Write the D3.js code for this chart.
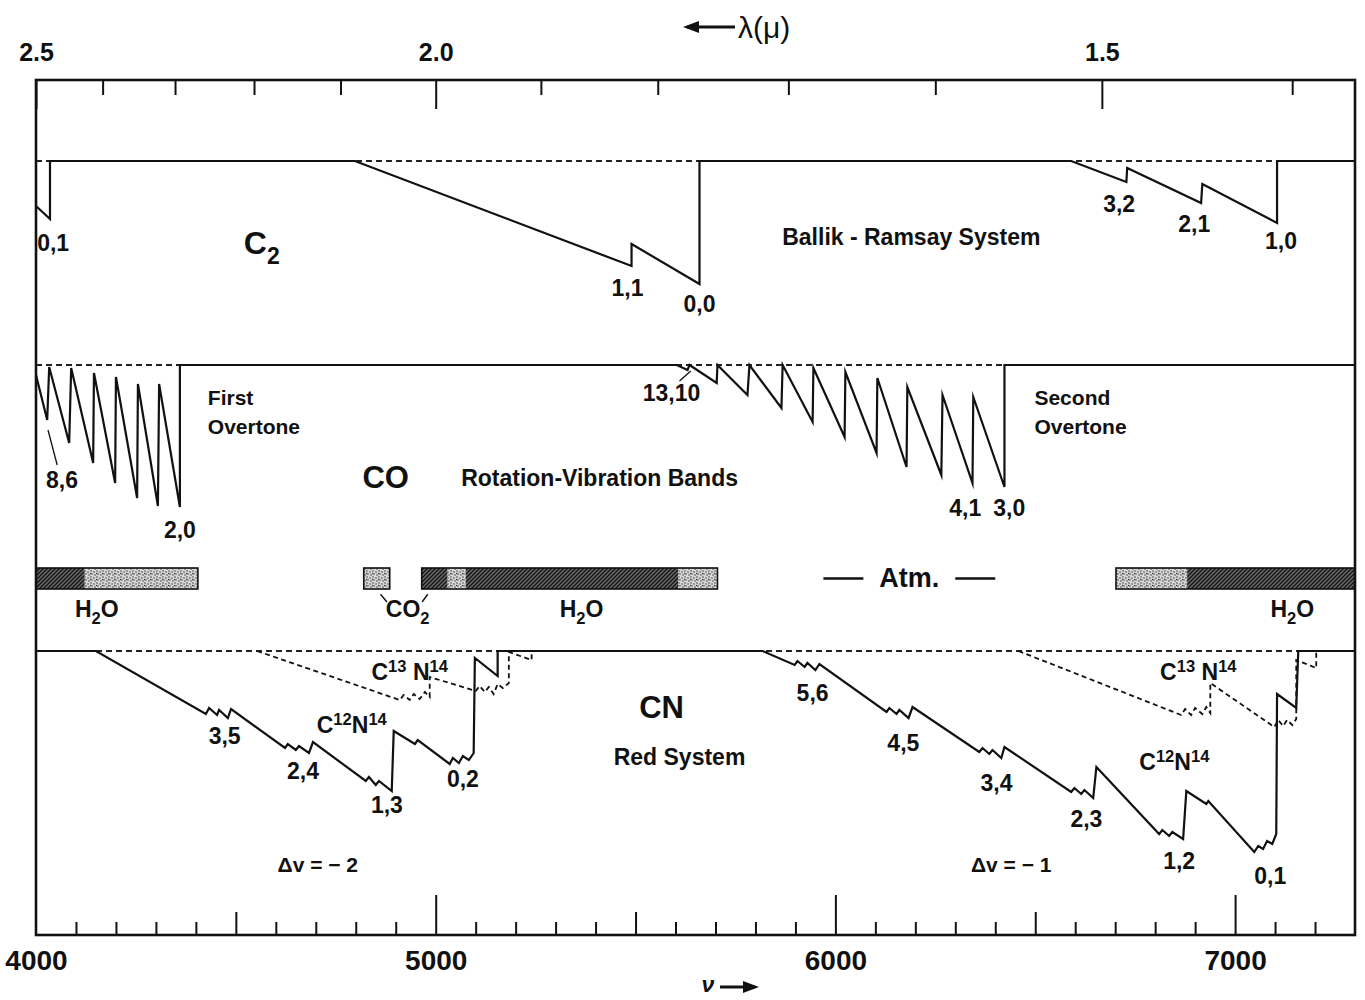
<!DOCTYPE html>
<html>
<head>
<meta charset="utf-8">
<script src="https://cdn.jsdelivr.net/npm/d3@7"></script>
<style>
  body { margin: 0; background: #fff; }
  svg { display: block; }
  .lbl { font-family: "Liberation Sans", Arial, sans-serif; font-weight: bold; fill: #111; }
  .tick text { font-family: "Liberation Sans", Arial, sans-serif; font-weight: bold; fill: #111; }
</style>
</head>
<body>
<div id="chart"></div>
<script>
// Absorption band schematic: C2, CO, atmosphere, CN   (nu in cm-1, depth below continuum)
const nuDomain = [4000, 7300];

// C2 Ballik-Ramsay system
const c2Line = [
  [4000, 45], [4035, 58], [4035, 0], [4798, 0], [5490, 105], [5490, 83], [5660, 123], [5660, 0],
  [6590, 0], [6728, 21], [6730, 7], [6915, 42], [6918, 23], [7105, 62], [7105, 0], [7300, 0]
];

// CO first + second overtone bands
const coLine = [
  [4000, 10], [4028, 55], [4033, 2], [4083, 78], [4088, 3], [4143, 98], [4145, 8],
  [4198, 118], [4200, 12], [4253, 133], [4255, 19], [4305, 141], [4308, 19], [4360, 142], [4360, 0],
  [5603, 0], [5630, 5], [5635, 0], [5703, 18], [5705, 0], [5780, 30], [5785, 0], [5865, 43], [5868, 0],
  [5943, 57], [5945, 3], [6023, 72], [6025, 7], [6103, 88], [6105, 13], [6178, 102], [6180, 22],
  [6265, 110], [6268, 30], [6343, 118], [6345, 32], [6423, 122], [6423, 0], [7300, 0]
];

// CN red system, C12N14 (solid)
const cn12Line = [
  [4000, 0], [4150, 0],
  [4425, 63], [4433, 57], [4453, 64], [4458, 59], [4480, 67], [4488, 58],
  [4623, 97], [4630, 93], [4650, 99], [4658, 95], [4683, 102], [4693, 91],
  [4825, 130], [4833, 126], [4850, 134], [4858, 130], [4890, 140], [4895, 80],
  [4948, 93], [4955, 89], [5035, 113], [5043, 107], [5058, 112], [5068, 105], [5083, 109], [5095, 102],
  [5098, 7], [5155, 25], [5155, 0], [5818, 0],
  [5898, 14], [5905, 10], [5923, 16], [5930, 12], [5950, 19], [5960, 13],
  [6128, 61], [6135, 57], [6153, 63], [6160, 59], [6183, 67], [6193, 56],
  [6360, 101], [6368, 97], [6385, 103], [6393, 99], [6415, 107], [6423, 96],
  [6590, 141], [6598, 137], [6615, 143], [6623, 139], [6645, 147], [6653, 116],
  [6810, 183], [6818, 179], [6835, 185], [6843, 181], [6870, 188], [6878, 140],
  [6928, 153], [6933, 150],
  [7048, 201], [7058, 195], [7070, 198], [7080, 190], [7093, 193], [7103, 183],
  [7105, 43], [7153, 57], [7158, 0], [7300, 0]
];

// CN red system, C13N14 (dashed)
const cn13Dv2 = [
  [4553, 0], [4910, 49], [4920, 44], [4935, 49], [4945, 43], [4960, 48], [4973, 41], [4985, 46],
  [4985, 26], [5100, 40], [5110, 35], [5123, 41], [5133, 36], [5145, 43], [5155, 33], [5168, 37],
  [5183, 32], [5183, 1], [5240, 9], [5240, 0]
];
const cn13Dv1 = [
  [6458, 0], [6865, 64], [6875, 58], [6890, 64], [6900, 57], [6918, 63], [6928, 56], [6938, 62],
  [6938, 32], [7098, 76], [7108, 69], [7120, 75], [7130, 69], [7143, 74], [7153, 68],
  [7153, 9], [7203, 17], [7203, 1]
];

// telluric absorption: [from, to, texture]
const atmSegments = [
  [4000, 4122, "hatch"], [4122, 4405, "stipple"],
  [4820, 4885, "stipple"],
  [4965, 5030, "hatch"], [5030, 5075, "stipple"], [5075, 5607, "hatch"], [5607, 5705, "stipple"],
  [6702, 6880, "stipple"], [6880, 7300, "hatch"]
];
const atmBoxes = [[4000, 4405], [4820, 4885], [4965, 5705], [6702, 7300]];

// axis ticks
const nuMinor = d3.range(4100, 7300, 100).filter(v => v % 500 !== 0);
const nuMid = [4500, 5500, 6500];
const nuMajor = [5000, 6000, 7000];
const nuLabels = [4000, 5000, 6000, 7000];
const lamMinor = [2.4, 2.3, 2.2, 2.1, 1.9, 1.8, 1.7, 1.6, 1.4];
const lamMajor = [2.5, 2.0, 1.5];

// labels: parts [text, 0 normal / 1 sup / -1 sub], nu, depth, anchor, size
const c2Labels = [
  { p: [["0,1", 0]], nu: 4043, d: 90 },
  { p: [["C", 0], ["2", -1]], nu: 4565, d: 93, s: 32 },
  { p: [["1,1", 0]], nu: 5480, d: 135 },
  { p: [["0,0", 0]], nu: 5660, d: 151 },
  { p: [["Ballik - Ramsay System", 0]], nu: 6190, d: 84 },
  { p: [["3,2", 0]], nu: 6710, d: 51 },
  { p: [["2,1", 0]], nu: 6898, d: 71 },
  { p: [["1,0", 0]], nu: 7115, d: 88 }
];
const coLabels = [
  { p: [["8,6", 0]], nu: 4065, d: 123 },
  { p: [["2,0", 0]], nu: 4360, d: 173 },
  { p: [["First", 0]], nu: 4430, d: 40, a: "start", s: 21 },
  { p: [["Overtone", 0]], nu: 4430, d: 69, a: "start", s: 21 },
  { p: [["CO", 0]], nu: 4875, d: 123, s: 31 },
  { p: [["Rotation-Vibration Bands", 0]], nu: 5410, d: 121 },
  { p: [["13,10", 0]], nu: 5590, d: 36 },
  { p: [["4,1", 0]], nu: 6325, d: 151 },
  { p: [["3,0", 0]], nu: 6435, d: 151 },
  { p: [["Second", 0]], nu: 6498, d: 40, a: "start", s: 21 },
  { p: [["Overtone", 0]], nu: 6498, d: 69, a: "start", s: 21 }
];
const coLeaders = [[[4030, 65], [4053, 100]], [[5610, 16], [5638, 6]]];
const atmLabels = [
  { p: [["H", 0], ["2", -1], ["O", 0]], nu: 4152, d: 2.35 },
  { p: [["CO", 0], ["2", -1]], nu: 4930, d: 2.35 },
  { p: [["H", 0], ["2", -1], ["O", 0]], nu: 5365, d: 2.35 },
  { p: [["H", 0], ["2", -1], ["O", 0]], nu: 7143, d: 2.35 },
  { p: [["Atm.", 0]], nu: 6185, d: 0.9, s: 27 }
];
const atmLeaders = [[[4862, 1.25], [4878, 1.62]], [[4980, 1.25], [4966, 1.62]], [[5970, 0.5], [6070, 0.5]], [[6300, 0.5], [6400, 0.5]]];
const cnLabels = [
  { p: [["3,5", 0]], nu: 4472, d: 93 },
  { p: [["2,4", 0]], nu: 4668, d: 128 },
  { p: [["1,3", 0]], nu: 4878, d: 162 },
  { p: [["0,2", 0]], nu: 5068, d: 136 },
  { p: [["C", 0], ["12", 1], ["N", 0], ["14", 1]], nu: 4790, d: 82 },
  { p: [["C", 0], ["13", 1], [" N", 0], ["14", 1]], nu: 4935, d: 29 },
  { p: [["CN", 0]], nu: 5565, d: 67, s: 31 },
  { p: [["Red System", 0]], nu: 5610, d: 114 },
  { p: [["\u0394v = \u2212 2", 0]], nu: 4705, d: 221, s: 21 },
  { p: [["5,6", 0]], nu: 5943, d: 50 },
  { p: [["4,5", 0]], nu: 6170, d: 100 },
  { p: [["3,4", 0]], nu: 6403, d: 140 },
  { p: [["2,3", 0]], nu: 6628, d: 176 },
  { p: [["1,2", 0]], nu: 6860, d: 218 },
  { p: [["0,1", 0]], nu: 7088, d: 233 },
  { p: [["C", 0], ["12", 1], ["N", 0], ["14", 1]], nu: 6848, d: 119 },
  { p: [["C", 0], ["13", 1], [" N", 0], ["14", 1]], nu: 6908, d: 29 },
  { p: [["\u0394v = \u2212 1", 0]], nu: 6440, d: 221, s: 21 }
];

const W = 1365, H = 1000;
const frame = { left: 36, right: 1355, top: 80, bottom: 935 };

const svg = d3.select("#chart").append("svg").attr("width", W).attr("height", H);

const x = d3.scaleLinear().domain(nuDomain).range([frame.left, frame.right]);
const yC2 = d3.scaleLinear().domain([0, 100]).range([161, 261]);
const yCO = d3.scaleLinear().domain([0, 100]).range([365, 465]);
const yCN = d3.scaleLinear().domain([0, 100]).range([651, 751]);
const yAtm = d3.scaleLinear().domain([0, 1]).range([568, 589]);

// textures
const defs = svg.append("defs");
const hatch = defs.append("pattern").attr("id", "hatch").attr("patternUnits", "userSpaceOnUse")
  .attr("width", 4).attr("height", 4);
hatch.append("rect").attr("width", 4).attr("height", 4).attr("fill", "#6a6a6a");
hatch.append("path").attr("d", "M-1,1 l2,-2 M0,4 l4,-4 M3,5 l2,-2").attr("stroke", "#111").attr("stroke-width", 1.3);
const stip = defs.append("pattern").attr("id", "stipple").attr("patternUnits", "userSpaceOnUse")
  .attr("width", 6).attr("height", 6);
stip.append("rect").attr("width", 6).attr("height", 6).attr("fill", "#d8d8d8");
[[1, 1], [4, 2], [2, 4], [5, 5], [0.5, 3.5]].forEach(([cx, cy]) =>
  stip.append("circle").attr("cx", cx).attr("cy", cy).attr("r", 0.75).attr("fill", "#333"));

// continuum (dashed) lines
[yC2, yCO, yCN].forEach(y => {
  svg.append("line").attr("x1", x(nuDomain[0])).attr("x2", x(nuDomain[1]))
    .attr("y1", y(0)).attr("y2", y(0))
    .attr("stroke", "#222").attr("stroke-width", 2).attr("stroke-dasharray", "6,4");
});

function drawCurve(data, y, dashed) {
  const line = d3.line().x(d => x(d[0])).y(d => y(d[1]));
  svg.append("path").datum(data).attr("d", line)
    .attr("fill", "none").attr("stroke", "#111")
    .attr("stroke-width", dashed ? 1.8 : 2.2)
    .attr("stroke-dasharray", dashed ? "5,3.5" : null)
    .attr("stroke-linejoin", "miter").attr("stroke-miterlimit", 6);
}
drawCurve(c2Line, yC2, false);
drawCurve(coLine, yCO, false);
drawCurve(cn12Line, yCN, false);
drawCurve(cn13Dv2, yCN, true);
drawCurve(cn13Dv1, yCN, true);

// atmosphere bars
svg.selectAll(".atm-seg").data(atmSegments).enter().append("rect")
  .attr("x", d => x(d[0])).attr("width", d => x(d[1]) - x(d[0]))
  .attr("y", yAtm(0)).attr("height", yAtm(1) - yAtm(0))
  .attr("fill", d => `url(#${d[2]})`);
svg.selectAll(".atm-box").data(atmBoxes).enter().append("rect")
  .attr("x", d => x(d[0])).attr("width", d => x(d[1]) - x(d[0]))
  .attr("y", yAtm(0)).attr("height", yAtm(1) - yAtm(0))
  .attr("fill", "none").attr("stroke", "#111").attr("stroke-width", 1.6);

function drawLeaders(list, y, w) {
  list.forEach(l => svg.append("line")
    .attr("x1", x(l[0][0])).attr("y1", y(l[0][1])).attr("x2", x(l[1][0])).attr("y2", y(l[1][1]))
    .attr("stroke", "#111").attr("stroke-width", w));
}
drawLeaders(coLeaders, yCO, 1.3);
drawLeaders(atmLeaders.slice(0, 2), yAtm, 1.4);
drawLeaders(atmLeaders.slice(2), yAtm, 2.4);

function drawLabels(list, y) {
  list.forEach(l => {
    const size = l.s || 23;
    const t = svg.append("text").attr("class", "lbl")
      .attr("x", x(l.nu)).attr("y", y(l.d))
      .attr("text-anchor", l.a || "middle").style("font-size", size + "px");
    let level = 0;
    l.p.forEach(([str, kind]) => {
      const shift = kind === 1 ? -0.36 : kind === -1 ? 0.3 : 0;
      t.append("tspan").text(str)
        .attr("dy", ((shift - level) * size).toFixed(1))
        .style("font-size", kind === 0 ? null : (size * 0.72) + "px");
      level = shift;
    });
  });
}
drawLabels(c2Labels, yC2);
drawLabels(coLabels, yCO);
drawLabels(atmLabels, yAtm);
drawLabels(cnLabels, yCN);

// bottom axis (nu)
function tickAxis(axis, vals, len, yPos) {
  const g = svg.append("g").attr("transform", `translate(0,${yPos})`)
    .call(axis(x).tickValues(vals).tickSize(-len).tickFormat(""));
  g.select(".domain").remove();
  g.selectAll("line").attr("stroke", "#111").attr("stroke-width", 2);
}
tickAxis(d3.axisBottom, nuMinor, 13, frame.bottom);
tickAxis(d3.axisBottom, nuMid, 23, frame.bottom);
tickAxis(d3.axisBottom, nuMajor, 40, frame.bottom);
const bl = svg.append("g").attr("transform", `translate(0,${frame.bottom})`)
  .call(d3.axisBottom(x).tickValues(nuLabels).tickSize(0).tickPadding(15).tickFormat(d3.format("d")));
bl.select(".domain").remove();
bl.selectAll("text").style("font-size", "28px");

// top axis (lambda in micron)
tickAxis(d3.axisTop, lamMinor.map(l => 1e4 / l), 15, frame.top);
tickAxis(d3.axisTop, lamMajor.map(l => 1e4 / l), 29, frame.top);
const tl = svg.append("g").attr("transform", `translate(0,${frame.top})`)
  .call(d3.axisTop(x).tickValues(lamMajor.map(l => 1e4 / l)).tickSize(0).tickPadding(19)
    .tickFormat(v => d3.format(".1f")(1e4 / v)));
tl.select(".domain").remove();
tl.selectAll("text").style("font-size", "25px");

// frame
svg.append("rect").attr("x", frame.left).attr("y", frame.top)
  .attr("width", frame.right - frame.left).attr("height", frame.bottom - frame.top)
  .attr("fill", "none").attr("stroke", "#111").attr("stroke-width", 2.6);

// axis titles with arrows
function arrow(x1, x2, y) {
  svg.append("line").attr("x1", x1).attr("x2", x2).attr("y1", y).attr("y2", y)
    .attr("stroke", "#111").attr("stroke-width", 3);
  const dir = Math.sign(x2 - x1);
  svg.append("path").attr("d", `M${x2 + dir * 4},${y} L${x2 - dir * 12},${y - 6} L${x2 - dir * 12},${y + 6} Z`)
    .attr("fill", "#111");
}
arrow(735, 687, 27);
svg.append("text").attr("class", "lbl").attr("x", 738).attr("y", 38).style("font-size", "30px")
  .style("font-weight", "normal").text("\u03bb(\u03bc)");
svg.append("text").attr("class", "lbl").attr("x", 708).attr("y", 992).attr("text-anchor", "middle")
  .style("font-size", "23px").style("font-style", "italic").text("\u03bd");
arrow(720, 755, 987);
</script>
</body>
</html>
